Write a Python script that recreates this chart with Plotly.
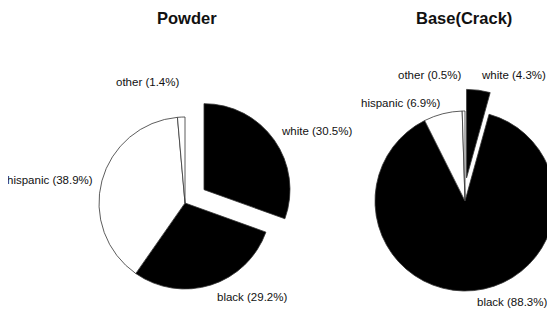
import math
import plotly.graph_objects as go

# The page body has a default 8px margin, so the figure is drawn 8px in from
# the top-left of the 555x310 window; size it to fill the remaining area.
PAGE_W, PAGE_H, OFF = 555, 310, 8
W, H = PAGE_W - OFF, PAGE_H - OFF

# ---- data ----
categories = ["white", "black", "hispanic", "other"]
powder_values = [30.5, 29.2, 38.9, 1.4]
crack_values = [4.3, 88.3, 6.9, 0.5]
chart_titles = ["Powder", "Base(Crack)"]
pulled_category = "white"

# ---- styles / layout (window pixels) ----
slice_colors = ["#000000", "#000000", "#ffffff", "#ffffff"]
FONT = "Liberation Sans, Arial, sans-serif"

pies = [
    dict(values=powder_values, title=chart_titles[0], cx=185, cy=203, r=86, pull=0.27,
         title_xy=(187, 18),
         labels={"white": (316, 131, "center"), "black": (252, 297, "center"),
                 "hispanic": (95, 180, "right"), "other": (147, 82, "center")}),
    dict(values=crack_values, title=chart_titles[1], cx=465, cy=201, r=90, pull=0.26,
         title_xy=(464, 18),
         labels={"white": (513, 75, "center"), "black": (512, 302, "center"),
                 "hispanic": (400, 103, "center"), "other": (429, 75, "center")}),
]


def px(x):
    return (x - OFF) / W


def py(y):
    return 1 - (y - OFF) / H


def domain(cx, cy, r):
    clamp = lambda v: min(1.0, max(0.0, v))
    return dict(x=[clamp(px(cx - r)), clamp(px(cx + r))],
                y=[clamp(py(cy + r)), clamp(py(cy - r))])


fig = go.Figure()
annotations = []
k = categories.index(pulled_category)
for p in pies:
    vals = p["values"]
    total = sum(vals)
    # main pie without the pulled slice
    colA = [("rgba(0,0,0,0)" if i == k else c) for i, c in enumerate(slice_colors)]
    lwA = [(0 if i == k else 0.8) for i in range(len(categories))]
    fig.add_trace(go.Pie(
        labels=categories, values=vals, sort=False, direction="clockwise", rotation=0,
        marker=dict(colors=colA, line=dict(color="#333333", width=lwA)),
        textinfo="none", hoverinfo="skip", showlegend=False,
        domain=domain(p["cx"], p["cy"], p["r"]),
    ))
    # pulled slice, offset along its mid angle
    mid = (sum(vals[:k]) + vals[k] / 2) / total * 2 * math.pi
    ox = p["pull"] * p["r"] * math.sin(mid)
    oy = -p["pull"] * p["r"] * math.cos(mid)
    colB = [(c if i == k else "rgba(0,0,0,0)") for i, c in enumerate(slice_colors)]
    lwB = [(0.8 if i == k else 0) for i in range(len(categories))]
    fig.add_trace(go.Pie(
        labels=categories, values=vals, sort=False, direction="clockwise", rotation=0,
        marker=dict(colors=colB, line=dict(color="#333333", width=lwB)),
        textinfo="none", hoverinfo="skip", showlegend=False,
        domain=domain(p["cx"] + ox, p["cy"] + oy, p["r"]),
    ))
    tx, ty = p["title_xy"]
    annotations.append(dict(text=f"<b>{p['title']}</b>", x=px(tx), y=py(ty),
                            xref="paper", yref="paper",
                            xanchor="center", yanchor="middle", showarrow=False,
                            font=dict(family=FONT, size=16.5, color="#111111")))
    for cat, v in zip(categories, vals):
        lx, ly, anc = p["labels"][cat]
        annotations.append(dict(text=f"{cat} ({v:.1f}%)", x=px(lx), y=py(ly),
                                xref="paper", yref="paper", xanchor=anc, yanchor="middle",
                                showarrow=False,
                                font=dict(family=FONT, size=11.5, color="#111111")))

fig.update_layout(
    width=W, height=H, margin=dict(l=0, r=0, t=0, b=0),
    paper_bgcolor="white", plot_bgcolor="white", showlegend=False,
    annotations=annotations,
)

fig.write_html("out.html")
